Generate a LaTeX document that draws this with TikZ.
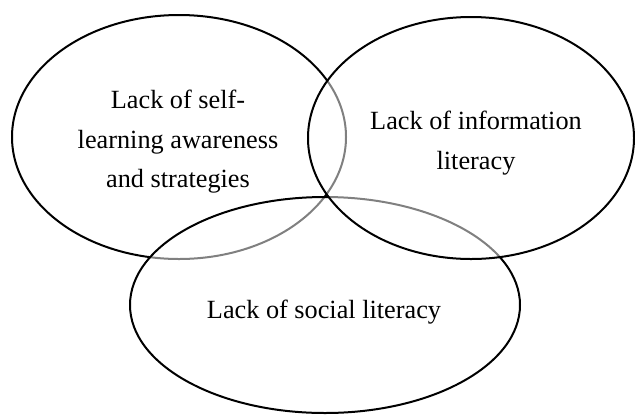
\documentclass[tikz,border=0pt]{standalone}
\usepackage{fontspec}
\setmainfont{Liberation Serif}

\tikzset{every picture/.style={line width=1.5pt}}
\tikzset{
  set/.style={draw=black, fill=white, fill opacity=0.5},
  lbl/.style={align=center, inner sep=0.75pt, font=\fontsize{19.7}{29.6}\selectfont}
}

\begin{document}
\begin{tikzpicture}[x=0.75pt,y=0.75pt,yscale=-1,xscale=1]
\useasboundingbox (0,0) rectangle (635,415);

% the three sets, later ones wash out the arcs beneath
\draw  [set]  (179,137) ellipse (167 and 122) ;
\draw  [set]  (325,305) ellipse (195 and 108) ;
\draw  [set]  (471,138) ellipse (163 and 121) ;

\draw (178,142) node [lbl] (selfl)  {Lack of self-\\learning awareness\\and strategies};
\draw (476,143) node [lbl] (infol)  {Lack of information\\literacy};
\draw (324,312) node [lbl] (sociall) {Lack of social literacy};

\end{tikzpicture}
\end{document}
